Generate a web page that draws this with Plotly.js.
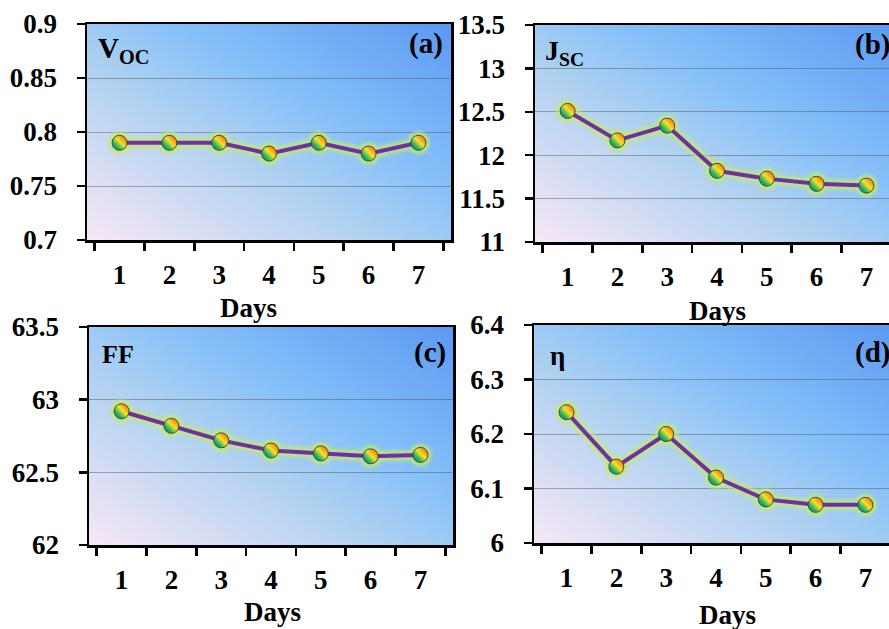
<!DOCTYPE html>
<html>
<head>
<meta charset="utf-8">
<script src="https://cdn.plot.ly/plotly-3.0.1.min.js"></script>
<style>
html,body{margin:0;padding:0;overflow:hidden;background:#fff;}
#chart{width:900px;height:629px;}
</style>
</head>
<body>
<div id="chart"></div>
<script>
// ---- data ----
const days = ['1','2','3','4','5','6','7'];
const voc = [0.79, 0.79, 0.79, 0.78, 0.79, 0.78, 0.79];
const jsc = [12.51, 12.17, 12.34, 11.82, 11.73, 11.67, 11.65];
const ff  = [62.92, 62.82, 62.72, 62.65, 62.63, 62.61, 62.62];
const eta = [6.24, 6.14, 6.20, 6.12, 6.08, 6.07, 6.07];
const panelLabels = ['(a)', '(b)', '(c)', '(d)'];
const paramLabels = ['V<sub>OC</sub>', 'J<sub>SC</sub>', 'FF', 'η'];
const xTitle = 'Days';

// ---- style ----
const FONT = '"Liberation Serif", "Times New Roman", Times, serif';
const lineColor = '#7030a0';
const glowColor = '#c2ea6e';

const series = [voc, jsc, ff, eta];
const axIds = [['x','y'],['x2','y2'],['x3','y3'],['x4','y4']];

const traces = [];
series.forEach((vals, i) => {
  const [xa, ya] = axIds[i];
  traces.push({
    x: days, y: vals, xaxis: xa, yaxis: ya, type: 'scatter', mode: 'lines+markers',
    line: {color: glowColor, width: 11}, marker: {size: 23, color: glowColor},
    opacity: 0.75, hoverinfo: 'skip', showlegend: false
  });
  traces.push({
    x: days, y: vals, xaxis: xa, yaxis: ya, type: 'scatter', mode: 'lines+markers',
    line: {color: lineColor, width: 4},
    marker: {size: 15, color: '#ff7a00', gradient: {type: 'vertical', color: '#12a88a'},
             line: {color: '#3d4a3d', width: 1}},
    showlegend: false
  });
});

const W = 900, H = 629;
// panel pixel boxes [left, right, top, bottom]
const boxes = [[87, 451, 24, 240], [535, 899, 25, 242], [89, 453, 327, 545], [534, 898, 325, 543]];
const yRanges = [[0.7, 0.9], [11, 13.5], [62, 63.5], [6, 6.4]];
const yDticks = [0.05, 0.5, 0.5, 0.1];

const tickFont = {family: FONT, size: 27, color: '#000', weight: 'bold'};

const gradSvg = '<svg xmlns="http://www.w3.org/2000/svg" width="100" height="100" viewBox="0 0 100 100" preserveAspectRatio="none">' +
  '<defs><linearGradient id="g" x1="0" y1="1" x2="1" y2="0">' +
  '<stop offset="0" stop-color="#f7e8f6"/>' +
  '<stop offset="0.42" stop-color="#acd0f1"/>' +
  '<stop offset="0.62" stop-color="#86c0f9"/>' +
  '<stop offset="1" stop-color="#5b99f2"/>' +
  '</linearGradient></defs><rect x="0" y="0" width="100" height="100" fill="url(#g)"/></svg>';
const gradSrc = 'data:image/svg+xml;charset=utf-8,' + encodeURIComponent(gradSvg);

const layout = {
  width: W, height: H,
  margin: {l: 0, r: 0, t: 0, b: 0},
  paper_bgcolor: '#ffffff', plot_bgcolor: 'rgba(0,0,0,0)',
  showlegend: false,
  font: {family: FONT},
  images: [], annotations: []
};

// title positions (px): [cx, cy]
const titlePos = [[248, 308], [717, 311], [272, 612], [727, 615]];
const paramPos = [[0.025, 0.88], [0.022, 0.875], [0.03, 0.872], [0.038, 0.86]];
const labelPos = [[0.984, 0.91], [0.981, 0.908], [0.986, 0.885], [0.984, 0.876]];
const paramSize = [29, 28, 26, 27];

boxes.forEach((b, i) => {
  const n = i === 0 ? '' : String(i + 1);
  layout['xaxis' + n] = {
    domain: [b[0] / W, b[1] / W], anchor: 'y' + n, type: 'category',
    categoryorder: 'array', categoryarray: days,
    tickson: 'boundaries', ticks: 'outside', ticklen: 8, tickwidth: 2.5, tickcolor: '#000',
    showline: true, linecolor: '#000', linewidth: 2.5, mirror: true,
    showgrid: false, zeroline: false, tickfont: Object.assign({}, tickFont), ticklabelstandoff: 9,
    fixedrange: true
  };
  layout['yaxis' + n] = {
    domain: [1 - b[3] / H, 1 - b[2] / H], anchor: 'x' + n,
    range: yRanges[i], dtick: yDticks[i], tick0: yRanges[i][0],
    ticks: 'outside', ticklen: 8, tickwidth: 2.5, tickcolor: '#000',
    showline: true, linecolor: '#000', linewidth: 2.5, mirror: true,
    showgrid: true, gridcolor: 'rgba(80,80,80,0.45)', gridwidth: 1, zeroline: false,
    tickfont: Object.assign({}, tickFont), ticklabelstandoff: 14, fixedrange: true
  };
  layout.images.push({
    source: gradSrc, xref: 'x' + n + ' domain', yref: 'y' + n + ' domain',
    x: 0, y: 1, sizex: 1, sizey: 1, xanchor: 'left', yanchor: 'top',
    sizing: 'stretch', layer: 'below'
  });
  layout.annotations.push({
    text: paramLabels[i], xref: 'x' + n + ' domain', yref: 'y' + n + ' domain',
    x: paramPos[i][0], y: paramPos[i][1], xanchor: 'left', yanchor: 'middle', showarrow: false,
    font: {family: FONT, size: paramSize[i], color: '#000', weight: 'bold'}
  });
  layout.annotations.push({
    text: panelLabels[i], xref: 'x' + n + ' domain', yref: 'y' + n + ' domain',
    x: labelPos[i][0], y: labelPos[i][1], xanchor: 'right', yanchor: 'middle', showarrow: false,
    font: {family: FONT, size: 29, color: '#000', weight: 'bold'}
  });
  layout.annotations.push({
    text: xTitle, xref: 'paper', yref: 'paper',
    x: titlePos[i][0] / W, y: 1 - titlePos[i][1] / H, xanchor: 'center', yanchor: 'middle',
    showarrow: false, font: {family: FONT, size: 27, color: '#000', weight: 'bold'}
  });
});

Plotly.newPlot('chart', traces, layout, {displayModeBar: false, staticPlot: true}).then(gd => {
  const NS = 'http://www.w3.org/2000/svg';
  // rainbow fill for the marker gradients (diagonal: blue bottom-left -> red top-right)
  const stops = [[0, '#1a5fd0'], [0.28, '#1fb060'], [0.55, '#f2e22a'], [0.8, '#ff8a10'], [1, '#f03a2a']];
  gd.querySelectorAll('svg linearGradient').forEach(g => {
    g.setAttribute('x1', '0'); g.setAttribute('y1', '1');
    g.setAttribute('x2', '1'); g.setAttribute('y2', '0');
    while (g.firstChild) g.removeChild(g.firstChild);
    stops.forEach(s => {
      const st = document.createElementNS(NS, 'stop');
      st.setAttribute('offset', s[0]);
      st.setAttribute('stop-color', s[1]);
      g.appendChild(st);
    });
  });
  // soft glow: blur the halo traces
  const svg = gd.querySelector('svg.main-svg');
  const defs = svg.querySelector('defs');
  const filt = document.createElementNS(NS, 'filter');
  filt.setAttribute('id', 'glowblur');
  filt.setAttribute('x', '-20%'); filt.setAttribute('y', '-50%');
  filt.setAttribute('width', '140%'); filt.setAttribute('height', '200%');
  const blur = document.createElementNS(NS, 'feGaussianBlur');
  blur.setAttribute('stdDeviation', '1.8');
  filt.appendChild(blur);
  defs.appendChild(filt);
  gd.querySelectorAll('.scatterlayer .trace').forEach((t, k) => {
    if (k % 2 === 0) t.setAttribute('filter', 'url(#glowblur)');
  });
});
</script>
</body>
</html>
